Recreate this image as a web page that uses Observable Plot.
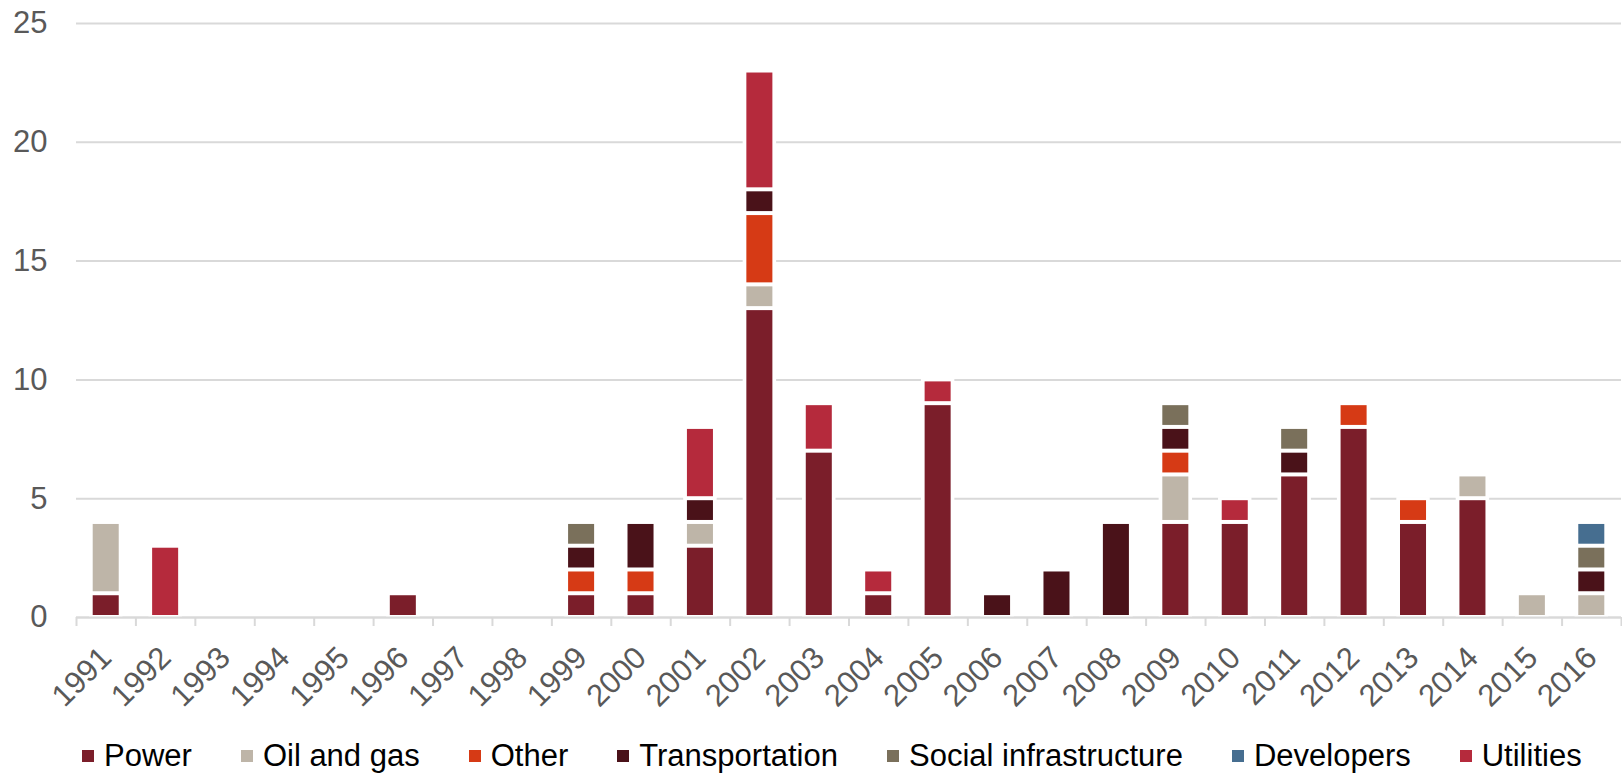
<!DOCTYPE html>
<html>
<head>
<meta charset="utf-8">
<script src="https://cdn.jsdelivr.net/npm/d3@7"></script>
<script src="https://cdn.jsdelivr.net/npm/@observablehq/plot@0.6"></script>
<style>
  html, body { margin: 0; padding: 0; background: #fff; }
  #wrap { position: relative; width: 1622px; height: 774px; font-family: "Liberation Sans", Arial, sans-serif; }
  #chart svg { display: block; }
  #legend { position: absolute; left: 82px; top: 741px; display: flex; align-items: center; gap: 49px; font-size: 31px; line-height: 30px; color: #000; white-space: nowrap; }
  .item { display: flex; align-items: center; }
  .sw { width: 12px; height: 12px; margin-right: 10px; }
</style>
</head>
<body>
<div id="wrap">
  <div id="chart"></div>
  <div id="legend"></div>
</div>
<script>
// Deals per year by sector, 1991–2016
const years = [1991, 1992, 1993, 1994, 1995, 1996, 1997, 1998, 1999, 2000, 2001, 2002, 2003,
               2004, 2005, 2006, 2007, 2008, 2009, 2010, 2011, 2012, 2013, 2014, 2015, 2016];

const power          = [1, 0, 0, 0, 0, 1, 0, 0, 1, 1, 3, 13, 7, 1, 9, 0, 0, 0, 4, 4, 6, 8, 4, 5, 0, 0];
const oilAndGas      = [3, 0, 0, 0, 0, 0, 0, 0, 0, 0, 1, 1, 0, 0, 0, 0, 0, 0, 2, 0, 0, 0, 0, 1, 1, 1];
const other          = [0, 0, 0, 0, 0, 0, 0, 0, 1, 1, 0, 3, 0, 0, 0, 0, 0, 0, 1, 0, 0, 1, 1, 0, 0, 0];
const transportation = [0, 0, 0, 0, 0, 0, 0, 0, 1, 2, 1, 1, 0, 0, 0, 1, 2, 4, 1, 0, 1, 0, 0, 0, 0, 1];
const socialInfra    = [0, 0, 0, 0, 0, 0, 0, 0, 1, 0, 0, 0, 0, 0, 0, 0, 0, 0, 1, 0, 1, 0, 0, 0, 0, 1];
const developers     = [0, 0, 0, 0, 0, 0, 0, 0, 0, 0, 0, 0, 0, 0, 0, 0, 0, 0, 0, 0, 0, 0, 0, 0, 0, 1];
const utilities      = [0, 3, 0, 0, 0, 0, 0, 0, 0, 0, 3, 5, 2, 1, 1, 0, 0, 0, 0, 1, 0, 0, 0, 0, 0, 0];

const sectors = ["Power", "Oil and gas", "Other", "Transportation", "Social infrastructure", "Developers", "Utilities"];
const sectorValues = [power, oilAndGas, other, transportation, socialInfra, developers, utilities];
const sectorColors = ["#7b1e2a", "#beb5a8", "#d63a15", "#4a1219", "#7a705b", "#466e90", "#b52a3c"];

const yTicks = [0, 5, 10, 15, 20, 25];

// Long-format rows, stacked bottom-up in legend order; empty segments are skipped
const rows = [];
years.forEach((year, i) => {
  sectors.forEach((sector, s) => {
    const value = sectorValues[s][i];
    if (value > 0) rows.push({year, sector, value});
  });
});

// Category boundaries, where the axis tick marks sit
const edges = years.map(y => y - 0.5).concat([years[years.length - 1] + 0.5]);

const grey = "#d9d9d9";
const textGrey = "#595959";

const barSpan = {x1: d => d.year - 0.5, x2: d => d.year + 0.5, y: "value"};

const edgeTicks = Plot.axisX
  ? Plot.axisX(edges, {tickSize: 9, stroke: grey, strokeWidth: 2, tickFormat: () => "", label: null})
  : Plot.ruleX(edges, {x: d => d, y1: 0, y2: -0.38, stroke: grey, strokeWidth: 2});

const chart = Plot.plot({
  width: 1622,
  height: 715,
  marginTop: 23,
  marginBottom: 98,
  marginLeft: 76,
  marginRight: 1,
  style: {fontFamily: "'Liberation Sans', Arial, sans-serif", background: "#fff"},
  x: {type: "linear", domain: [edges[0], edges[edges.length - 1]], axis: null},
  y: {domain: [yTicks[0], yTicks[yTicks.length - 1]], axis: null},
  color: {domain: sectors, range: sectorColors},
  marks: [
    Plot.ruleY(yTicks, {stroke: grey, strokeWidth: 2}),
    // white halo behind each segment breaks the gridlines
    Plot.rectY(rows, {...barSpan, fill: "white", insetLeft: 13, insetRight: 13, insetTop: -1}),
    Plot.rectY(rows, {...barSpan, fill: "sector", insetLeft: 16.7, insetRight: 16.7, insetTop: 2, insetBottom: 2}),
    Plot.ruleY([yTicks[0]], {stroke: grey, strokeWidth: 2}),
    edgeTicks,
    Plot.text(yTicks, {y: d => d, frameAnchor: "left", text: d => String(d), textAnchor: "end",
                       dx: -29, fontSize: 31, fill: textGrey}),
    Plot.text(years, {x: d => d, frameAnchor: "bottom", text: d => String(d), rotate: -45,
                      textAnchor: "end", lineAnchor: "bottom", dx: 7, dy: 42, fontSize: 31, fill: textGrey})
  ]
});
document.getElementById("chart").appendChild(chart);

// Legend
const legend = document.getElementById("legend");
sectors.forEach((sector, s) => {
  const item = document.createElement("div");
  item.className = "item";
  const sw = document.createElement("span");
  sw.className = "sw";
  sw.style.background = sectorColors[s];
  const label = document.createElement("span");
  label.textContent = sector;
  item.appendChild(sw);
  item.appendChild(label);
  legend.appendChild(item);
});
</script>
</body>
</html>
